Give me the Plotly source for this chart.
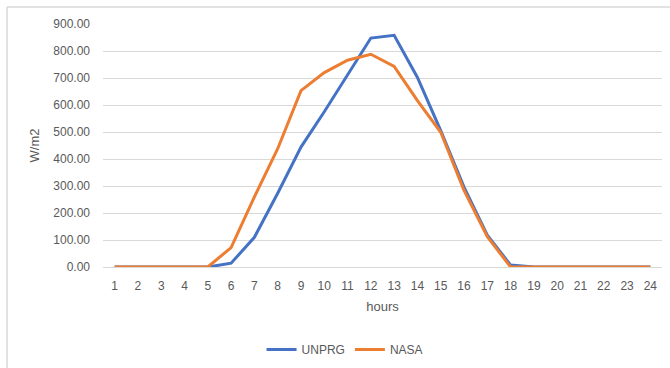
import plotly.graph_objects as go

hours = list(range(1, 25))
hour_labels = [str(h) for h in hours]

unprg = [0, 0, 0, 0, 0, 14, 110, 273, 444, 575, 712, 848, 858, 702, 505, 296, 118, 7,
         0, 0, 0, 0, 0, 0]
nasa = [0, 0, 0, 0, 0, 72, 260, 438, 653, 720, 766, 788, 743, 616, 499, 284, 112, 0,
        0, 0, 0, 0, 0, 0]

y_ticks = [0, 100, 200, 300, 400, 500, 600, 700, 800, 900]

BLUE = "#4472C4"
ORANGE = "#ED7D31"
TEXT = "#595959"
GRID = "#D9D9D9"
FONT = "Liberation Sans"

fig = go.Figure()
fig.add_trace(go.Scatter(x=hour_labels, y=unprg, mode="lines", name="UNPRG",
                         line=dict(color=BLUE, width=3)))
fig.add_trace(go.Scatter(x=hour_labels, y=nasa, mode="lines", name="NASA",
                         line=dict(color=ORANGE, width=3)))

fig.update_layout(
    width=670, height=368,
    margin=dict(l=103, r=8, t=24, b=101, autoexpand=False),
    paper_bgcolor="white", plot_bgcolor="white",
    font=dict(family=FONT, size=12, color=TEXT),
    showlegend=True,
    legend=dict(orientation="h", x=0.433, xanchor="center", y=-0.34, yanchor="middle",
                font=dict(family=FONT, size=12, color=TEXT), itemwidth=30,
                bgcolor="rgba(0,0,0,0)"),
    xaxis=dict(type="category", range=[-0.5, 23.5], showgrid=False, zeroline=False,
               showline=False, ticks="", ticklabelstandoff=10, automargin=False,
               title=dict(text="hours", standoff=9, font=dict(size=13, color=TEXT))),
    yaxis=dict(range=[0, 900], tickvals=y_ticks, tickformat=".2f", showgrid=True,
               gridcolor=GRID, gridwidth=1, zeroline=True, zerolinecolor=GRID,
               zerolinewidth=1, showline=False, ticks="", ticklabelstandoff=12,
               automargin=False,
               title=dict(text="W/m2", standoff=10, font=dict(size=13, color=TEXT))),
    shapes=[
        dict(type="line", xref="paper", yref="paper", x0=-0.1717, x1=-0.1717,
             y0=1.0697, y1=-0.42, line=dict(color=GRID, width=1.5)),
        dict(type="line", xref="paper", yref="paper", x0=-0.1717, x1=1.02,
             y0=1.0697, y1=1.0697, line=dict(color=GRID, width=1.5)),
    ],
)

fig.write_html("out.html")
